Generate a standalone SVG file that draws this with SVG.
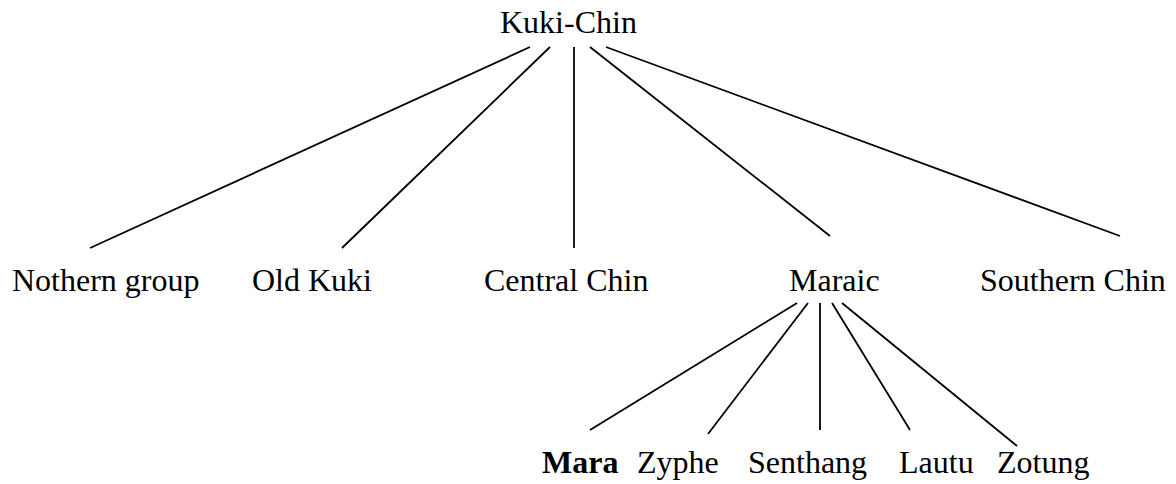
<svg xmlns="http://www.w3.org/2000/svg" width="1176" height="484" viewBox="0 0 1176 484">
  <style>
    .label { font-family: "Liberation Serif", "Times New Roman", serif; font-size: 32px; fill: #000; }
    .bold { font-weight: bold; }
    .edge { stroke: #000; stroke-width: 1.8; fill: none; }
  </style>
  <rect width="1176" height="484" fill="#fff"/>

  <!-- connectors -->
  <g id="connectors" class="edge">
    <!-- Kuki-Chin to its branches -->
    <line x1="530" y1="47" x2="90" y2="248"/>
    <line x1="550" y1="47" x2="342" y2="248"/>
    <line x1="574" y1="47" x2="574" y2="248"/>
    <line x1="590" y1="47" x2="830" y2="236"/>
    <line x1="606" y1="47" x2="1120" y2="236"/>
    <!-- Maraic to its languages -->
    <line x1="797" y1="303" x2="590" y2="430"/>
    <line x1="808" y1="303" x2="708" y2="434"/>
    <line x1="820" y1="303" x2="820" y2="430"/>
    <line x1="832" y1="303" x2="910" y2="430"/>
    <line x1="842" y1="303" x2="1017" y2="446"/>
  </g>

  <!-- root -->
  <g id="kuki-chin"><text class="label" x="500" y="33">Kuki-Chin</text></g>

  <!-- branches -->
  <g id="northern-group"><text class="label" x="12" y="291">Nothern group</text></g>
  <g id="old-kuki"><text class="label" x="252" y="291">Old Kuki</text></g>
  <g id="central-chin"><text class="label" x="484" y="291">Central Chin</text></g>
  <g id="maraic"><text class="label" x="789" y="291">Maraic</text></g>
  <g id="southern-chin"><text class="label" x="980" y="291">Southern Chin</text></g>

  <!-- Maraic languages -->
  <g id="mara"><text class="label bold" x="542" y="473">Mara</text></g>
  <g id="zyphe"><text class="label" x="637" y="473">Zyphe</text></g>
  <g id="senthang"><text class="label" x="748" y="473">Senthang</text></g>
  <g id="lautu"><text class="label" x="899" y="473">Lautu</text></g>
  <g id="zotung"><text class="label" x="997" y="473">Zotung</text></g>
</svg>
